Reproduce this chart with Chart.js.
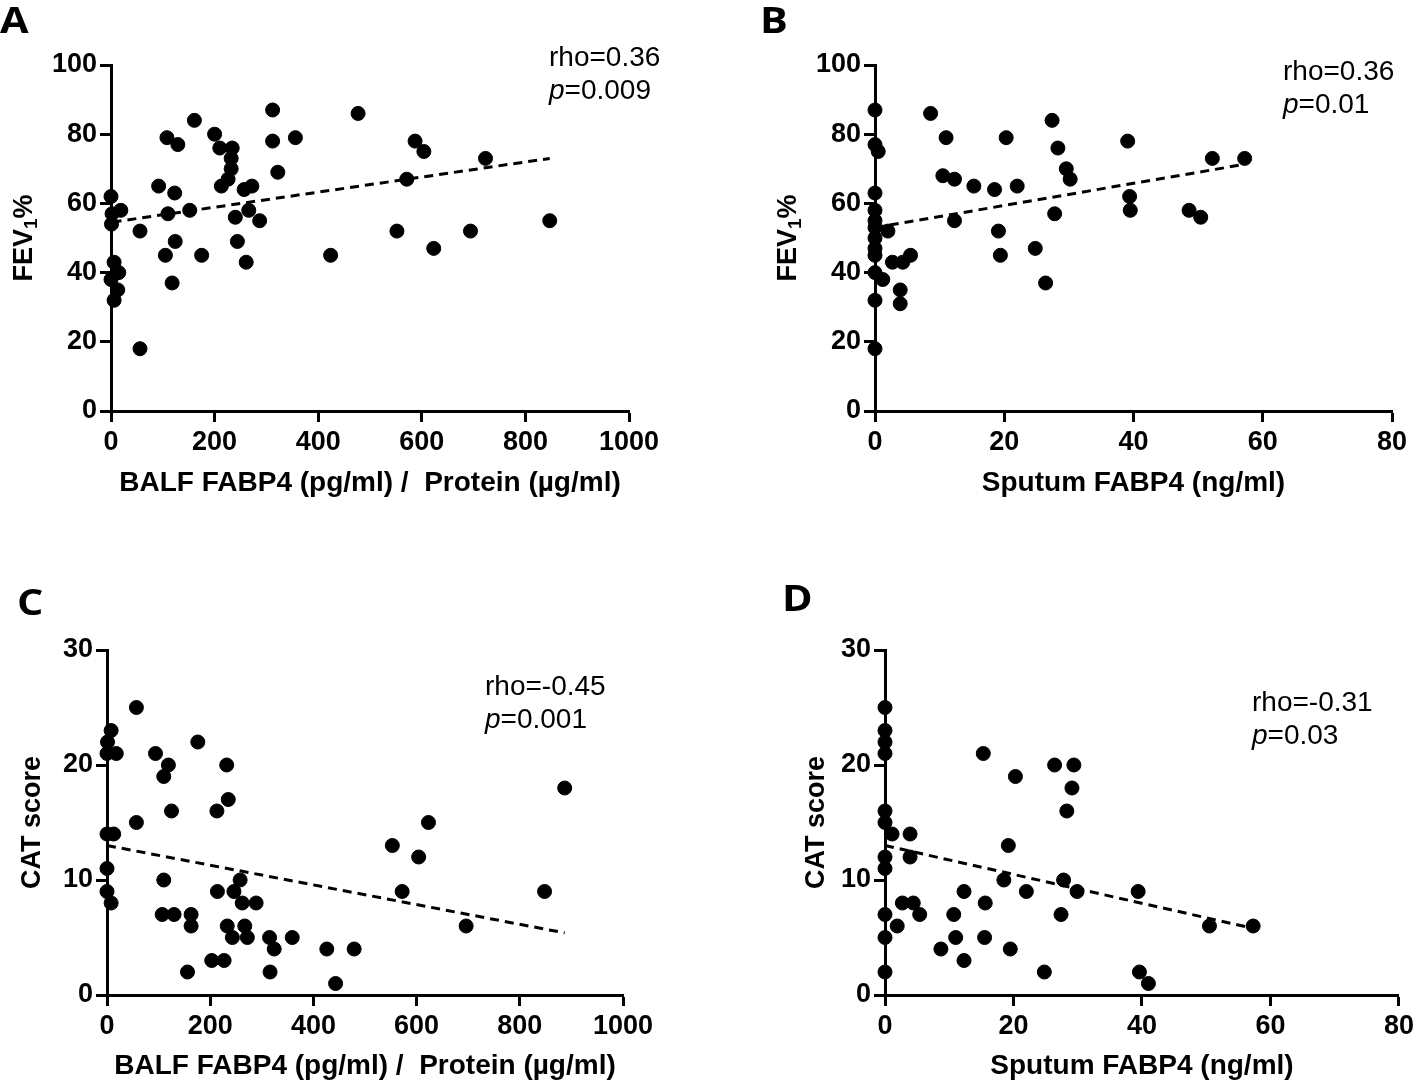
<!DOCTYPE html>
<html>
<head>
<meta charset="utf-8">
<script src="https://cdn.jsdelivr.net/npm/chart.js@4.4.0/dist/chart.umd.min.js"></script>
<style>
  body { margin: 0; background: #fff; }
  canvas { position: absolute; }
</style>
</head>
<body>
<canvas id="panelA" width="709" height="541" style="left:0px;top:0px"></canvas>
<canvas id="panelB" width="709" height="541" style="left:709px;top:0px"></canvas>
<canvas id="panelC" width="709" height="542" style="left:0px;top:541px"></canvas>
<canvas id="panelD" width="709" height="542" style="left:709px;top:541px"></canvas>
<script>
// Panel A: BALF FABP4/protein vs FEV1%
const aX = [0, 2, 19, 1, 56, 92, 108, 129, 161, 200, 210, 234, 232, 232, 226, 213, 312, 312, 356, 322, 477, 123, 110, 152, 257, 272, 240, 266, 287, 124, 105, 175, 244, 261, 118, 424, 56, 6, 15, 0, 13, 6, 587, 604, 723, 571, 552, 623, 694, 847];
const aY = [62, 57, 58, 54, 52, 65, 79, 77, 84, 80, 76, 76, 73, 70, 67, 65, 87, 78, 79, 69, 86, 63, 57, 58, 64, 65, 56, 58, 55, 49, 45, 45, 49, 43, 37, 45, 18, 43, 40, 38, 35, 32, 78, 75, 73, 67, 52, 47, 52, 55];
const aFitX = [3, 847];
const aFitY = [54.6, 73.0];

// Panel B: sputum FABP4 vs FEV1%
const bX = [0, 0, 0.5, 0, 0, 0, 0, 0, 0, 0, 0, 1.2, 0, 0, 2, 2.7, 4.3, 5.5, 3.9, 3.9, 8.6, 11, 10.5, 12.3, 12.3, 15.3, 18.5, 22, 20.3, 19.1, 19.4, 24.8, 26.4, 27.4, 28.3, 29.6, 30.2, 27.8, 39.1, 52.2, 57.2, 39.4, 39.5, 48.6, 50.4];
const bY = [87, 77, 75, 63, 58, 55, 53, 50, 47, 45, 40, 38, 32, 18, 52, 43, 43, 45, 35, 31, 86, 79, 68, 67, 55, 65, 64, 65, 79, 52, 45, 47, 37, 84, 76, 70, 67, 57, 78, 73, 73, 62, 58, 58, 56];
const bFitX = [0, 57.2];
const bFitY = [53.0, 71.3];

// Panel C: BALF FABP4/protein vs CAT score
const cX = [57, 8, 1, 0, 18, 94, 176, 119, 110, 232, 235, 213, 125, 57, 0, 13, 0, 0, 8, 110, 214, 246, 258, 262, 289, 107, 130, 163, 163, 233, 267, 243, 272, 315, 324, 359, 426, 479, 203, 227, 156, 316, 443, 553, 604, 623, 572, 696, 848, 887];
const cY = [25, 23, 22, 21, 21, 21, 22, 20, 19, 20, 17, 16, 16, 15, 14, 14, 11, 9, 8, 10, 9, 9, 10, 8, 8, 7, 7, 7, 6, 6, 6, 5, 5, 5, 4, 5, 4, 4, 3, 3, 2, 2, 1, 13, 12, 15, 9, 6, 9, 18];
const cFitX = [0, 887];
const cFitY = [13.0, 5.4];

// Panel D: sputum FABP4 vs CAT score
const dX = [0, 0, 0, 0, 0, 0, 1.1, 3.9, 0, 0, 3.9, 0, 0, 0, 1.9, 2.7, 4.4, 5.4, 8.7, 10.7, 11, 12.3, 12.3, 15.6, 15.5, 15.3, 20.3, 19.2, 18.5, 22, 19.5, 24.8, 26.4, 29.4, 29.1, 28.3, 27.8, 27.4, 29.9, 39.4, 50.5, 57.3, 39.6, 41];
const dY = [25, 23, 22, 21, 16, 15, 14, 14, 12, 11, 12, 7, 5, 2, 6, 8, 8, 7, 4, 7, 5, 9, 3, 8, 5, 21, 19, 13, 10, 9, 4, 2, 20, 20, 18, 16, 10, 7, 9, 9, 6, 6, 2, 1];
const dFitX = [0, 57.3];
const dFitY = [13.0, 5.8];

// axis labels and stats
const balfTitle = 'BALF FABP4 (pg/ml) /  Protein (\u00b5g/ml)';
const sputumTitle = 'Sputum FABP4 (ng/ml)';
const stats = {
  A: ['rho=0.36', '0.009'],
  B: ['rho=0.36', '0.01'],
  C: ['rho=-0.45', '0.001'],
  D: ['rho=-0.31', '0.03']
};

const FONT = '"Liberation Sans", Arial, sans-serif';

// draws panel letter, rotated y title (with subscript) and rho / p text
const panelText = {
  id: 'panelText',
  afterDraw(chart, args, opts) {
    const ctx = chart.ctx;
    const area = chart.chartArea;
    ctx.save();
    ctx.fillStyle = '#000';

    // panel letter
    ctx.font = 'bold 36px "Open Sans", sans-serif';
    ctx.textAlign = 'left';
    ctx.textBaseline = 'alphabetic';
    ctx.save();
    ctx.translate(opts.letterX, opts.letterY);
    ctx.scale(1.15, 1);
    ctx.fillText(opts.letter, 0, 0);
    ctx.restore();

    // y axis title
    ctx.save();
    ctx.translate(opts.yTitleX, (area.top + area.bottom) / 2);
    ctx.rotate(-Math.PI / 2);
    ctx.textBaseline = 'middle';
    const mainFont = 'bold 27px ' + FONT;
    const subFont = 'bold 19px ' + FONT;
    ctx.font = mainFont;
    const w1 = ctx.measureText(opts.yTitle[0]).width;
    const w3 = opts.yTitle[2] ? ctx.measureText(opts.yTitle[2]).width : 0;
    ctx.font = subFont;
    const w2 = opts.yTitle[1] ? ctx.measureText(opts.yTitle[1]).width : 0;
    let x = -(w1 + w2 + w3) / 2;
    ctx.font = mainFont;
    ctx.fillText(opts.yTitle[0], x, 0);
    x += w1;
    if (opts.yTitle[1]) {
      ctx.font = subFont;
      ctx.fillText(opts.yTitle[1], x, 7);
      x += w2;
      ctx.font = mainFont;
      ctx.fillText(opts.yTitle[2], x, 0);
    }
    ctx.restore();

    // correlation text
    ctx.textBaseline = 'alphabetic';
    ctx.font = '28px ' + FONT;
    ctx.fillText(opts.stats[0], opts.statX, opts.statY);
    ctx.font = 'italic 28px ' + FONT;
    ctx.fillText('p', opts.statX, opts.statY + 33);
    const pw = ctx.measureText('p').width;
    ctx.font = '28px ' + FONT;
    ctx.fillText('=' + opts.stats[1], opts.statX + pw, opts.statY + 33);
    ctx.restore();
  }
};

function makePanel(id, p) {
  const pts = p.x.map((v, i) => ({ x: v, y: p.y[i] }));
  const fit = p.fitX.map((v, i) => ({ x: v, y: p.fitY[i] }));
  const tickFont = { family: FONT, size: 27, weight: 'bold' };
  return new Chart(document.getElementById(id), {
    type: 'scatter',
    data: {
      datasets: [
        {
          type: 'line',
          data: fit,
          borderColor: '#000',
          borderWidth: 3,
          borderDash: [9, 6],
          pointRadius: 0,
          fill: false,
          clip: false,
          order: 2
        },
        {
          data: pts,
          backgroundColor: '#000',
          borderColor: '#000',
          pointRadius: 7,
          pointHoverRadius: 7,
          clip: false,
          order: 1
        }
      ]
    },
    options: {
      responsive: false,
      animation: false,
      events: [],
      layout: { padding: { left: p.padL, right: p.padR, top: p.padT, bottom: 0 } },
      plugins: {
        legend: { display: false },
        tooltip: { enabled: false },
        panelText: p.text
      },
      scales: {
        x: {
          type: 'linear',
          min: 0,
          max: p.xMax,
          ticks: { stepSize: p.xStep, color: '#000', font: tickFont, padding: 4, maxRotation: 0, callback: v => String(v) },
          grid: { display: true, drawOnChartArea: false, drawTicks: true, tickLength: 11, tickWidth: 3, color: '#000' },
          border: { display: true, width: 3, color: '#000' },
          title: {
            display: true,
            text: p.xTitle,
            color: '#000',
            font: { family: FONT, size: 28, weight: 'bold' },
            padding: { top: 0, bottom: p.xTitlePad }
          },
          afterFit: s => { s.height = p.xH; }
        },
        y: {
          type: 'linear',
          min: 0,
          max: p.yMax,
          ticks: { stepSize: p.yStep, color: '#000', font: tickFont, padding: 3, callback: v => String(v) },
          grid: { display: true, drawOnChartArea: false, drawTicks: true, tickLength: 11, tickWidth: 3, color: '#000' },
          border: { display: true, width: 3, color: '#000' },
          afterFit: s => { s.width = p.yW; }
        }
      }
    },
    plugins: [panelText]
  });
}

makePanel('panelA', {
  x: aX, y: aY, fitX: aFitX, fitY: aFitY,
  xMax: 1000, xStep: 200, yMax: 100, yStep: 20,
  xTitle: balfTitle, xTitlePad: 41, xH: 130, yW: 111,
  padL: 0, padR: 80, padT: 65,
  text: { letter: 'A', letterX: 0, letterY: 33, yTitle: ['FEV', '1', '%'], yTitleX: 25, stats: stats.A, statX: 549, statY: 66 }
});

makePanel('panelB', {
  x: bX, y: bY, fitX: bFitX, fitY: bFitY,
  xMax: 80, xStep: 20, yMax: 100, yStep: 20,
  xTitle: sputumTitle, xTitlePad: 41, xH: 130, yW: 111,
  padL: 55, padR: 26, padT: 65,
  text: { letter: 'B', letterX: 51, letterY: 33, yTitle: ['FEV', '1', '%'], yTitleX: 80, stats: stats.B, statX: 574, statY: 80 }
});

makePanel('panelC', {
  x: cX, y: cY, fitX: cFitX, fitY: cFitY,
  xMax: 1000, xStep: 200, yMax: 30, yStep: 10,
  xTitle: balfTitle, xTitlePad: 0, xH: 88, yW: 107,
  padL: 0, padR: 86, padT: 109,
  text: { letter: 'C', letterX: 17, letterY: 74, yTitle: ['CAT score'], yTitleX: 33, stats: stats.C, statX: 485, statY: 154 }
});

makePanel('panelD', {
  x: dX, y: dY, fitX: dFitX, fitY: dFitY,
  xMax: 80, xStep: 20, yMax: 30, yStep: 10,
  xTitle: sputumTitle, xTitlePad: 0, xH: 88, yW: 111,
  padL: 65, padR: 16, padT: 109,
  text: { letter: 'D', letterX: 73, letterY: 70, yTitle: ['CAT score'], yTitleX: 108, stats: stats.D, statX: 543, statY: 170 }
});
</script>
</body>
</html>
